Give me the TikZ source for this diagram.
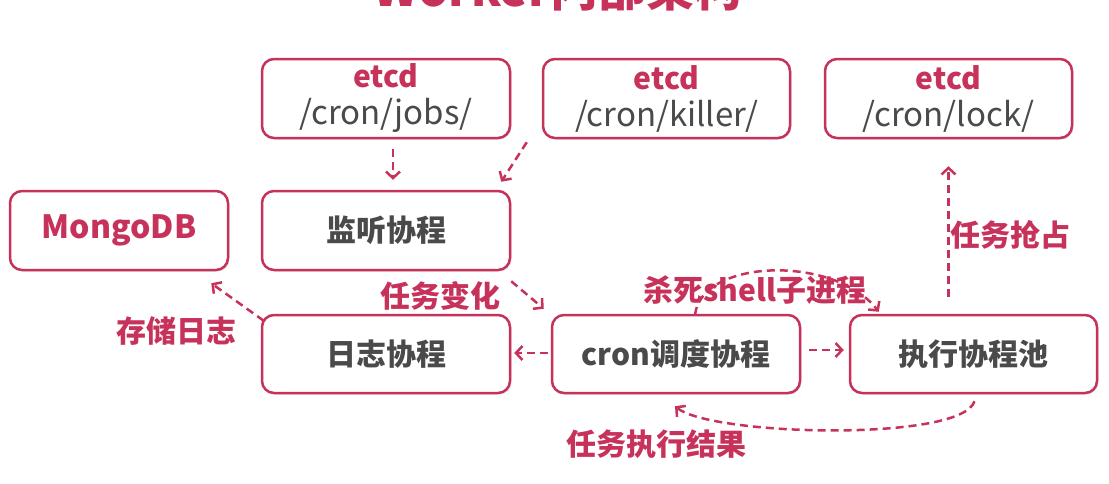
\documentclass[tikz,border=0pt]{standalone}
\usepackage{fontspec}
\setmainfont{Noto Sans CJK SC}
\usetikzlibrary{arrows.meta,calc,shadows}
\definecolor{rd}{HTML}{C7325A}
\definecolor{gy}{HTML}{4A4A4A}
\begin{document}
\begin{tikzpicture}[x=1pt,y=-1pt,
 box/.style={draw=rd, line width=2.5pt, rounded corners=12pt, fill=white, minimum height=79pt, inner sep=0pt,
   font=\fontsize{30}{38}\selectfont\bfseries, text=gy, align=center,
   drop shadow={opacity=0.18,shadow xshift=1.5pt,shadow yshift=-1.5pt}},
 lab/.style={text=rd, font=\fontsize{30}{36}\selectfont\bfseries, inner sep=0pt},
 arr/.style={draw=rd, line width=2.5pt, dash pattern=on 8pt off 5pt, -{Straight Barb[length=6.5pt,width=14pt]}}
]
\useasboundingbox (0,0) rectangle (1109,483);
\begin{scope}
\clip (0,0) rectangle (1109,483);
\node[anchor=base, text=rd, font=\fontsize{48}{48}\selectfont\bfseries, inner sep=0pt] (title) at (558,6) {Worker内部架构};
\end{scope}

\newcommand{\etcdtext}[1]{{\color{rd}etcd}\\[-1pt]{\fontsize{33}{38}\selectfont\mdseries #1}}
\node[box, minimum width=248pt] (jobs) at (386,98.5) {\etcdtext{/cron/jobs/}};
\node[box, minimum width=247pt] (killer) at (666.5,98.5) {\etcdtext{/cron/killer/}};
\node[box, minimum width=247pt] (lock) at (948.5,98.5) {\etcdtext{/cron/lock/}};
\node[box, minimum width=218pt, text=rd, font=\fontsize{32}{38}\selectfont\bfseries] (mongo) at (119,230.5) {MongoDB};
\node[box, minimum width=248pt] (listen) at (386,230.5) {监听协程};
\node[box, minimum width=248pt, minimum height=78pt] (log) at (386,354) {日志协程};
\node[box, minimum width=248pt, minimum height=78pt] (cron) at (676,354) {cron调度协程};
\node[box, minimum width=247pt, minimum height=78pt] (exec) at (973.5,354) {执行协程池};

\draw[arr] ($(jobs.south)+(7,10)$) -- ($(listen.north)+(7,-10)$);
\draw[arr] ($(killer.south west)+(-15,3)$) -- ($(listen.north east)+(-10,-8)$);
\draw[arr] ($(listen.south east)+(0,10)$) -- ($(cron.north west)+(-7,-5)$);
\draw[arr] ($(cron.west)+(-3,-1)$) -- ($(log.east)+(3,-1)$);
\draw[arr] ($(log.north west)+(3,7)$) -- ($(mongo.south east)+(-18,12)$);
\draw[arr] ($(cron.east)+(8,-4)$) -- ($(exec.west)+(-5,-4)$);
\draw[arr] ($(exec.north)+(-25,-17)$) -- ($(lock.south)+(0,27)$);
\draw[arr] ($(cron.north)+(19,1)$) .. controls (702,258) and (835,255) .. ($(exec.north west)+(30,-2)$);
\draw[arr] ($(exec.south)+(1,7)$) .. controls (962,442) and (712,436) .. ($(cron.south)+(-1,12)$);

\node[lab] (l1) at (440,296) {任务变化};
\node[lab] (l2) at (176,331) {存储日志};
\node[lab] (l3) at (755,290) {杀死shell子进程};
\node[lab] (l4) at (656,444) {任务执行结果};
\node[lab] (l5) at (1010,235) {任务抢占};
\end{tikzpicture}
\end{document}
